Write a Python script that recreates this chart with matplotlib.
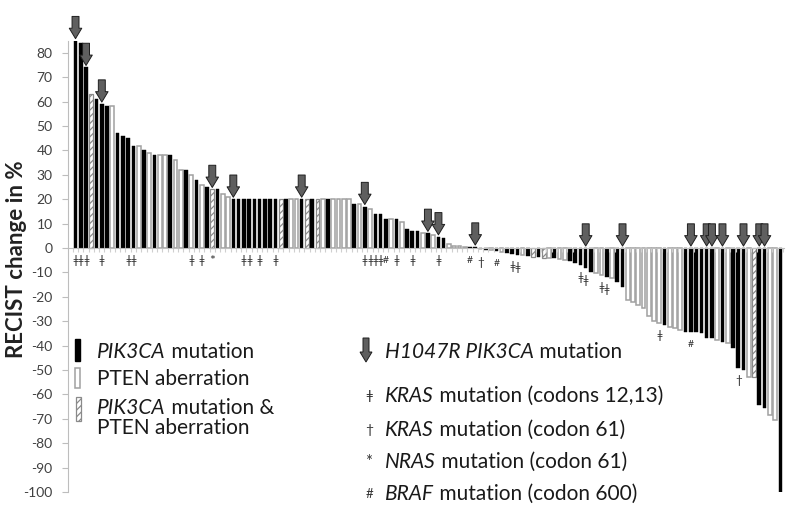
import numpy as np
import matplotlib.pyplot as plt
from matplotlib.patches import Rectangle, Polygon

# ── data ─────────────────────────────────────────────────────────────────────
# bar kind: B = PIK3CA mutation, W = PTEN aberration, H = PIK3CA mutation & PTEN aberration
kinds = list(
    "BBBHBBBWBBBBWBWBWWBWWBWBWBHBWWBB"
    "BBBBBBBHBWWBHBHWBWWWW"
    "BWBWBBBWBWBBBWBWBB"
    "WWWWBBBBWBWBBBWBHBHWBWWBBBB"
    "BWWBWBB"
    "WWWWWWWBWWWBBBBBBWBWBBBWHBBWWB"
)
recist = [
    85, 84, 74, 63, 61, 59, 58, 58, 47, 46, 45, 42, 42, 40, 39, 38,
    38, 38, 38, 36, 32, 32, 30, 28, 26, 25, 24, 24, 22, 21, 20, 20,
    20, 20, 20, 20, 20, 20, 20, 20, 20, 20, 20, 20, 20, 20, 20, 20,
    20, 20, 20, 20, 20,
    18, 18, 17, 16, 14, 14, 12, 12, 12, 10.8, 7.8, 7, 7, 6, 6, 5.3,
    4.6, 4,
    1.5, 1.0, 0.8, 0.6, 0.5, 0.4, -0.6, -0.8, -1.0, -1.2, -1.5, -2,
    -2.5, -2.7, -3, -3.2, -3.5, -3.5, -4, -4, -4.2, -4.5, -5, -5.5,
    -6, -7, -8,
    -9.7, -10.4, -11, -11.7, -12.4, -13.8, -15.8,
    -21.3, -22, -23.4, -24.7, -28, -30, -30.8, -31.5, -32.2, -32.9,
    -33.6, -34.3, -34.3, -34.5, -35, -37, -37, -37.7, -38.4, -39, -41,
    -49.3, -50, -52.7, -52.7, -64.3, -65.7, -68.4, -70.5, -100,
]
# 1-based bar numbers
h1047r = [1, 3, 6, 27, 31, 44, 56, 68, 70, 77, 98, 105, 118, 121, 122,
          124, 128, 131, 132]
kras_12_13 = [1, 2, 3, 6, 11, 12, 23, 25, 33, 34, 36, 39, 56, 57, 58, 59,
              62, 65, 70, 84, 85, 97, 98, 101, 102, 112]
kras_61 = [78, 127]
nras_61 = [27]
braf_600 = [60, 76, 81, 118]

yticks = list(range(-100, 81, 10))

# ── figure ───────────────────────────────────────────────────────────────────
W, H = 800, 509
fig = plt.figure(figsize=(W / 100, H / 100), dpi=100)
FONT = ['Lato', 'DejaVu Sans']
plt.rcParams['font.family'] = FONT
plt.rcParams['hatch.linewidth'] = 0.9
plt.rcParams['axes.unicode_minus'] = False


def fx(x):
    return x / W


def fy(y):
    return 1 - y / H


ax = fig.add_axes([fx(68), fy(492), (784 - 68) / W, (492 - 40.6) / H])
n = len(recist)
ax.set_xlim(-1.43, n - 1 + 0.7)
ax.set_ylim(-100, 85)

for i, (k, v) in enumerate(zip(kinds, recist)):
    if k == 'B':
        ax.bar(i, v, width=0.68, color='black', edgecolor='black', linewidth=0.3)
    elif k == 'W':
        ax.bar(i, v, width=0.72, color='white', edgecolor='#a0a0a0', linewidth=1.1)
    else:
        ax.bar(i, v, width=0.72, color='white', edgecolor='#8a8a8a',
               linewidth=0.9, hatch='/////')

# axes styling
for s in ['top', 'right']:
    ax.spines[s].set_visible(False)
ax.spines['left'].set_color('#bdbdbd')
ax.spines['bottom'].set_color('#bdbdbd')
ax.spines['bottom'].set_position(('data', 0))
ax.set_yticks(yticks)
ax.tick_params(axis='y', length=4, color='#bdbdbd', labelsize=10,
               labelcolor='#404040', pad=7)
ax.set_xticks(np.arange(-0.5, n, 1))
ax.set_xticklabels([])
ax.tick_params(axis='x', length=3, color='#cfcfcf', direction='out')
fig.text(fx(17), fy(259), 'RECIST change in %', rotation=90, fontsize=16,
         fontweight='bold', color='#222222', ha='center', va='center')


# H1047R arrows just above the bar (or above zero line)
def draw_arrow(axis, xc, ybase):
    axis.annotate('', xy=(xc, ybase), xytext=(0, 16), textcoords='offset points',
                  xycoords='data',
                  arrowprops=dict(arrowstyle='simple,head_length=0.75,head_width=0.9,tail_width=0.5',
                                  fc='#5f5f5f', ec='#1e1e1e', lw=0.7,
                                  mutation_scale=10, shrinkA=0, shrinkB=0),
                  annotation_clip=False)


for b in h1047r:
    v = recist[b - 1]
    draw_arrow(ax, b - 1, max(v, 0) + 0.8)

# mutation markers below bars (small so neighbours don't collide)
markers = [(kras_12_13, 'ǂ', 8), (kras_61, '†', 8.5), (nras_61, '*', 10),
           (braf_600, '#', 7.5)]
for idx, sym, fs in markers:
    for b in idx:
        v = recist[b - 1]
        ax.text(b - 1, min(v, 0) - 5.2, sym, ha='center', va='center',
                fontsize=fs, color='#333333', family=FONT)

# ── legend (figure pixel coords) ─────────────────────────────────────────────
fig.canvas.draw()
rend = fig.canvas.get_renderer()


def rich(xp, yp, parts, size=15):
    cur = fx(xp)
    for txt, it in parts:
        t = fig.text(cur, fy(yp), txt, fontsize=size, va='center', ha='left',
                     style='italic' if it else 'normal', color='#1a1a1a')
        bb = t.get_window_extent(renderer=rend)
        cur += bb.width / W


# bar icons
fig.patches.append(Rectangle((fx(74.5), fy(361)), 5 / W, 22 / H, transform=fig.transFigure,
                             facecolor='black', edgecolor='black', figure=fig))
fig.patches.append(Rectangle((fx(75), fy(388)), 5 / W, 20 / H, transform=fig.transFigure,
                             facecolor='white', edgecolor='#a0a0a0', lw=1.1, figure=fig))
fig.patches.append(Rectangle((fx(76), fy(421)), 5 / W, 24 / H, transform=fig.transFigure,
                             facecolor='white', edgecolor='#8a8a8a', lw=0.9,
                             hatch='/////', figure=fig))
rich(97, 352, [('PIK3CA', True), (' mutation', False)])
rich(97, 379, [('PTEN aberration', False)])
rich(97, 408, [('PIK3CA', True), (' mutation &', False)])
rich(97, 428, [('PTEN aberration', False)])

# arrow icon
fig.patches.append(Polygon([(fx(363), fy(338)), (fx(369), fy(338)), (fx(369), fy(352)),
                            (fx(372), fy(352)), (fx(366), fy(362)), (fx(360), fy(352)),
                            (fx(363), fy(352))], closed=True, transform=fig.transFigure,
                           facecolor='#5f5f5f', edgecolor='#1e1e1e', lw=0.7, figure=fig))
rich(385, 352, [('H1047R PIK3CA', True), (' mutation', False)])

leg_rows = [
    ('ǂ', 10, [('KRAS', True), (' mutation (codons 12,13)', False)], 396),
    ('†', 10, [('KRAS', True), (' mutation (codon 61)', False)], 430),
    ('*', 12, [('NRAS', True), (' mutation (codon 61)', False)], 462),
    ('#', 9.5, [('BRAF', True), (' mutation (codon 600)', False)], 494),
]
for sym, fs, parts, yp in leg_rows:
    fig.text(fx(369), fy(yp), sym, fontsize=fs, ha='center', va='center',
             color='#333333', family=FONT)
    rich(385, yp, parts)

fig.savefig('out.png', dpi=100)
